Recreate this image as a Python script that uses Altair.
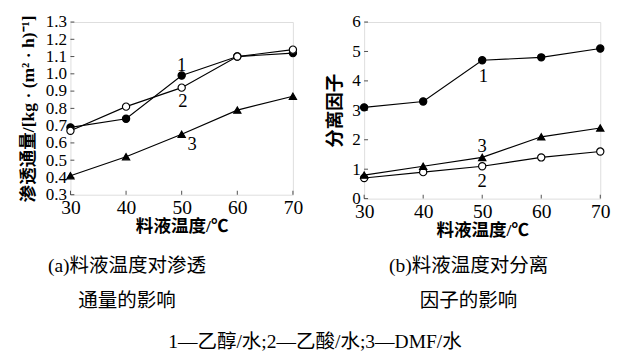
import altair as alt
import pandas as pd

temps = [30, 40, 50, 60, 70]
series_ids = ["1", "2", "3"]

flux_1 = [0.69, 0.74, 0.99, 1.10, 1.12]
flux_2 = [0.67, 0.81, 0.92, 1.10, 1.14]
flux_3 = [0.41, 0.52, 0.65, 0.79, 0.87]

sep_1 = [3.1, 3.3, 4.7, 4.8, 5.1]
sep_2 = [0.7, 0.9, 1.1, 1.4, 1.6]
sep_3 = [0.8, 1.1, 1.4, 2.1, 2.4]

flux_label_x = [50.0, 50.2, 51.9]
flux_label_y = [1.05, 0.84, 0.59]
sep_label_x = [50.2, 50.0, 50.0]
sep_label_y = [4.15, 0.59, 1.78]

flux_ticks = [0.3, 0.4, 0.5, 0.6, 0.7, 0.8, 0.9, 1.0, 1.1, 1.2, 1.3]
sep_ticks = [0, 1, 2, 3, 4, 5, 6]

NUM_FONT = "Liberation Serif"
CJK_FONT = "Liberation Serif, Noto Sans CJK SC"


def long_df(vals):
    rows = []
    for sid, ys in zip(series_ids, vals):
        for t, v in zip(temps, ys):
            rows.append({"temp": t, "value": v, "series": sid})
    return pd.DataFrame(rows)


def panel(vals, lx, ly, ydom, yticks, yfmt, ytitle, ytitle_size, ytitle_pad, w, h,
          caption, cap_dx, cap_offset):
    df = long_df(vals)
    lab = pd.DataFrame({"temp": lx, "value": ly, "series": series_ids})
    ytk_df = pd.DataFrame({"temp": [30] * len(yticks), "value": yticks})
    xtk_df = pd.DataFrame({"temp": temps, "value": [ydom[0]] * len(temps)})
    xs = alt.Scale(domain=[30, 70], nice=False, zero=False)
    ys = alt.Scale(domain=ydom, nice=False, zero=False)
    xax = alt.Axis(values=temps, tickSize=0, domain=False, grid=False, labelFlush=False,
                   labelOverlap=False, labelPadding=3, labelFont=NUM_FONT, labelFontSize=20,
                   labelColor="black", title="料液温度/℃", titleFont=CJK_FONT,
                   titleFontSize=18, titleFontWeight="bold", titleColor="black", titlePadding=1)
    yax = alt.Axis(values=yticks, format=yfmt, tickSize=0, domain=False, grid=False,
                   labelFlush=False, labelOverlap=False, labelPadding=4, labelFont=NUM_FONT,
                   labelFontSize=17.5, labelColor="black", title=ytitle, titleFont=CJK_FONT,
                   titleFontSize=ytitle_size, titleFontWeight="bold", titleColor="black",
                   titlePadding=ytitle_pad)
    X = alt.X("temp:Q", scale=xs, axis=xax)
    Y = alt.Y("value:Q", scale=ys, axis=yax)
    base = alt.Chart(df)
    lines = base.mark_line(color="black", strokeWidth=1.2).encode(
        x=X, y=Y, detail="series:N",
    )
    pts = base.mark_point(filled=True, size=55, stroke="black", strokeWidth=1.2, opacity=1).encode(
        x=X, y=Y,
        shape=alt.Shape("series:N", scale=alt.Scale(domain=series_ids,
                        range=["circle", "circle", "triangle-up"]), legend=None),
        fill=alt.Fill("series:N", scale=alt.Scale(domain=series_ids,
                      range=["black", "white", "black"]), legend=None),
    )
    labels = alt.Chart(lab).mark_text(font=NUM_FONT, fontSize=19, color="black").encode(
        x=X, y=Y, text="series:N",
    )
    ytk = alt.Chart(ytk_df).mark_tick(
        orient="horizontal", size=4, thickness=1, color="black", xOffset=2).encode(
        y=Y, x=X)
    xtk = alt.Chart(xtk_df).mark_tick(
        orient="vertical", size=4, thickness=1, color="black", yOffset=-2).encode(
        x=X, y=Y)
    return alt.layer(lines, pts, labels, ytk, xtk).properties(
        width=w, height=h,
        title=alt.TitleParams(text=caption, orient="bottom", anchor="middle", dx=cap_dx,
                              offset=cap_offset, font=CJK_FONT, fontSize=20,
                              fontWeight="normal", color="black", lineHeight=36),
    )


left = panel([flux_1, flux_2, flux_3], flux_label_x, flux_label_y, [0.3, 1.3], flux_ticks,
             ".1f", "渗透通量/[kg · (m² · h)⁻¹]", 18, 8, 228, 177,
             ["(a)料液温度对渗透", "通量的影响"], -56, 21)
right = panel([sep_1, sep_2, sep_3], sep_label_x, sep_label_y, [0, 6], sep_ticks,
              "d", "分离因子", 19, 7, 242, 181,
              ["(b)料液温度对分离", "因子的影响"], -14, 17)

chart = alt.hconcat(left, right, spacing=22).properties(
    title=alt.TitleParams(text="1—乙醇/水;2—乙酸/水;3—DMF/水", orient="bottom",
                          anchor="middle", offset=22, font=CJK_FONT, fontSize=20,
                          fontWeight="normal", color="black"),
    padding={"left": 11, "top": 0, "right": 0, "bottom": 2},
).configure_view(stroke="black", strokeWidth=1.2).configure(background="white")

chart.save("out.html", embed_options={"renderer": "svg", "actions": False})
